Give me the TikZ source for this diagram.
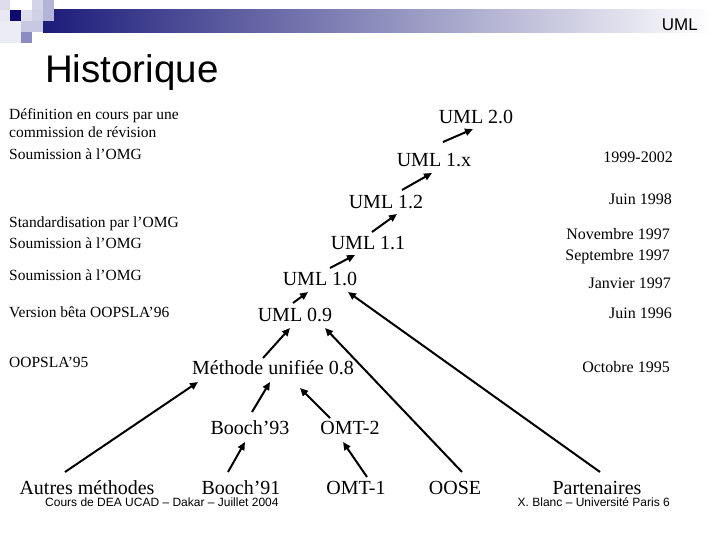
\documentclass[tikz,border=0pt]{standalone}
\usepackage{fontspec}
\setmainfont{Liberation Serif}
\newfontfamily\arial{Liberation Sans}
\usetikzlibrary{arrows.meta,calc}
\definecolor{navy}{RGB}{12,12,112}
\definecolor{barleft}{RGB}{28,28,122}
\definecolor{barmid}{RGB}{160,162,192}
\begin{document}
\begin{tikzpicture}[x=1pt,y=-1pt,
  lbl/.style={anchor=base west,font=\fontsize{15.5}{18}\selectfont,inner sep=0},
  datelbl/.style={anchor=base east,font=\fontsize{16}{19}\selectfont,inner sep=0},
  ver/.style={font=\fontsize{20}{24}\selectfont,inner sep=0},
  foot/.style={font=\arial\fontsize{12}{14}\selectfont,inner sep=0},
  arr/.style={line width=2pt,-{Triangle[length=8pt,width=7pt]}},
  sq/.style={draw=none}]
\useasboundingbox[fill=white] (0,0) rectangle (720,540);
% header bar
\shade[left color=barleft,middle color=barmid,right color=white] (43,10) rectangle (712,33);
% decorative squares
\fill[sq,fill={rgb,255:red,220;green,220;blue,236}] (0,0) rectangle (10,10);
\fill[sq,fill={rgb,255:red,232;green,232;blue,242}] (0,10) rectangle (10,21);
\fill[sq,fill=navy] (10,10) rectangle (21,21);
\fill[sq,fill={rgb,255:red,212;green,212;blue,232}] (32,0) rectangle (43,10);
\fill[sq,fill={rgb,255:red,180;green,180;blue,216}] (43,0) rectangle (54,21);
\fill[sq,fill={rgb,255:red,222;green,222;blue,236}] (21,10) rectangle (32,21);
\fill[sq,fill={rgb,255:red,208;green,208;blue,230}] (32,10) rectangle (43,21);
\fill[sq,fill={rgb,255:red,200;green,200;blue,226}] (21,21) rectangle (43,32);
\fill[sq,fill={rgb,255:red,140;green,140;blue,192}] (21,32) rectangle (32,43);
\fill[sq,fill={rgb,255:red,236;green,236;blue,244}] (0,21) rectangle (21,43);
\node[anchor=east,inner sep=0,font=\arial\fontsize{17}{20}\selectfont] (hdr) at (698,25) {UML};
\node[anchor=base west,inner sep=0,font=\arial\fontsize{38.5}{44}\selectfont] (title) at (45,83) {Historique};
% left labels
\node[lbl] (l1) at (9,120) {Définition en cours par une};
\node[lbl] (l2) at (9,138) {commission de révision};
\node[lbl] (l3) at (9,160) {Soumission à l’OMG};
\node[lbl] (l4) at (9,228) {Standardisation par l’OMG};
\node[lbl] (l5) at (9,248) {Soumission à l’OMG};
\node[lbl] (l6) at (9,280) {Soumission à l’OMG};
\node[lbl] (l7) at (9,317) {Version bêta OOPSLA’96};
\node[lbl] (l8) at (9,367) {OOPSLA’95};
% dates
\node[datelbl] (d1) at (673,163) {1999-2002};
\node[datelbl] (d2) at (672,205) {Juin 1998};
\node[datelbl] (d3) at (670,240) {Novembre 1997};
\node[datelbl] (d4) at (670,260) {Septembre 1997};
\node[datelbl] (d5) at (671,288) {Janvier 1997};
\node[datelbl] (d6) at (672,318) {Juin 1996};
\node[datelbl] (d7) at (670,372) {Octobre 1995};
% versions
\node[ver] (uml20) at (476,117) {UML 2.0};
\node[ver] (uml1x) at (434,160) {UML 1.x};
\node[ver] (uml12) at (386,202) {UML 1.2};
\node[ver] (uml11) at (368,243) {UML 1.1};
\node[ver] (uml10) at (320,279) {UML 1.0};
\node[ver] (uml09) at (295,315) {UML 0.9};
\node[ver] (meth) at (273,368) {Méthode unifiée 0.8};
\node[ver] (b93) at (250,428) {Booch’93};
\node[ver] (omt2) at (350,428) {OMT-2};
\node[ver] (b91) at (241,488) {Booch’91};
\node[ver] (omt1) at (356,488) {OMT-1};
\node[ver] (oose) at (455,488) {OOSE};
\node[ver] (part) at (597,488) {Partenaires};
\node[ver] (autres) at (87,488) {Autres méthodes};
% footers
\node[foot,anchor=west] (f1) at (45,502) {Cours de DEA UCAD – Dakar – Juillet 2004};
\node[foot,anchor=east] (f2) at (670,502) {X. Blanc – Université Paris 6};
% arrows
\draw[arr] ($(uml1x)+(9,-18)$) -- ($(uml20)+(-3,12)$);
\draw[arr] ($(uml12)+(16,-12)$) -- ($(uml1x)+(-2,13)$);
\draw[arr] ($(uml11)+(4,-11)$) -- ($(uml12)+(11,12)$);
\draw[arr] ($(uml10)+(10,-11)$) -- ($(uml11)+(-13,12)$);
\draw[arr] ($(uml09)+(-2,-12)$) -- ($(uml10)+(-12,13)$);
\draw[arr] ($(meth)+(-10,-10)$) -- ($(uml09)+(-5,13)$);
\draw[arr] ($(oose)+(7,-16)$) -- ($(uml09)+(30,13)$);
\draw[arr] ($(part)+(3,-16)$) -- ($(uml10)+(28,13)$);
\draw[arr] ($(autres)+(-22,-16)$) -- ($(meth)+(-75,14)$);
\draw[arr] ($(b93)+(2,-16)$) -- ($(meth)+(-3,14)$);
\draw[arr] ($(omt2)+(-20,-10)$) -- ($(meth)+(27,20)$);
\draw[arr] ($(b91)+(-13,-16)$) -- ($(b93)+(-5,14)$);
\draw[arr] ($(omt1)+(11,-11)$) -- ($(omt2)+(-7,14)$);
\end{tikzpicture}
\end{document}
